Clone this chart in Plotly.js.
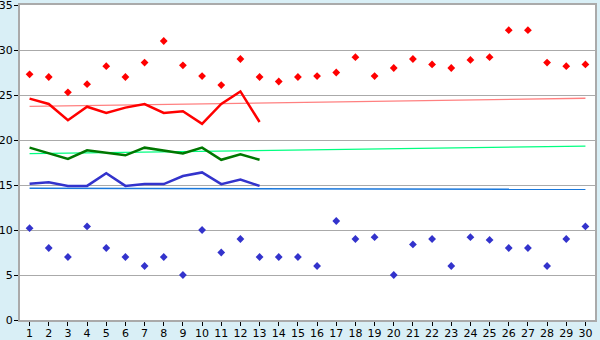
<!DOCTYPE html>
<html>
<head>
<meta charset="utf-8">
<script src="https://cdn.plot.ly/plotly-3.0.1.min.js"></script>
<style>
html,body{margin:0;padding:0;background:#d9eff6;}
#chart{width:600px;height:340px;}
</style>
</head>
<body>
<div id="chart"></div>
<script>
const days = [1,2,3,4,5,6,7,8,9,10,11,12,13,14,15,16,17,18,19,20,21,22,23,24,25,26,27,28,29,30];
const maxPoints = [27.3,27.0,25.3,26.2,28.2,27.0,28.6,31.0,28.3,27.1,26.1,29.0,27.0,26.5,27.0,27.1,27.5,29.2,27.1,28.0,29.0,28.4,28.0,28.9,29.2,32.2,32.2,28.6,28.2,28.4];
const minPoints = [10.2,8.0,7.0,10.4,8.0,7.0,6.0,7.0,5.0,10.0,7.5,9.0,7.0,7.0,7.0,6.0,11.0,9.0,9.2,5.0,8.4,9.0,6.0,9.2,8.9,8.0,8.0,6.0,9.0,10.4];
const lineDays = [1,2,3,4,5,6,7,8,9,10,11,12,13];
const redLine = [24.6,24.0,22.2,23.7,23.0,23.6,24.0,23.0,23.2,21.8,24.0,25.4,22.0];
const greenLine = [19.15,18.5,17.9,18.85,18.6,18.3,19.15,18.8,18.5,19.15,17.8,18.4,17.8];
const blueLine = [15.15,15.3,14.9,14.9,16.3,14.9,15.1,15.1,16.0,16.4,15.1,15.6,14.9];
const trendDays = [1,30];
const redTrend = [23.74,24.64];
const greenTrend = [18.48,19.33];
const blueTrend = [14.63,14.52];

const traces = [
  {x: trendDays, y: redTrend, mode:'lines', line:{color:'#ff8080', width:1.3}},
  {x: trendDays, y: greenTrend, mode:'lines', line:{color:'#00ff80', width:1.3}},
  {x: trendDays, y: blueTrend, mode:'lines', line:{color:'#1a78dc', width:1.5}},
  {x: lineDays, y: redLine, mode:'lines', line:{color:'#ff0000', width:2.5}},
  {x: lineDays, y: greenLine, mode:'lines', line:{color:'#007700', width:2.5}},
  {x: lineDays, y: blueLine, mode:'lines', line:{color:'#3333cc', width:2.5}},
  {x: days, y: maxPoints, mode:'markers', marker:{symbol:'diamond', size:6, color:'#ff0000'}},
  {x: days, y: minPoints, mode:'markers', marker:{symbol:'diamond', size:6, color:'#3333cc'}}
];

const layout = {
  width:600, height:340,
  margin:{l:20, r:5, t:5, b:20, pad:0},
  paper_bgcolor:'#d9eff6',
  plot_bgcolor:'#ffffff',
  showlegend:false,
  font:{family:'DejaVu Sans, Verdana, sans-serif', size:11, color:'#000'},
  xaxis:{
    range:[0.5,30.5], tickmode:'array', tickvals:days, ticktext:days.map(String),
    showgrid:false, zeroline:false,
    showline:true, linecolor:'#aaaaaa', linewidth:2, mirror:true,
    ticks:'outside', ticklen:4, tickcolor:'#000', tickwidth:1,
    ticklabeloverflow:'allow', ticklabelstandoff:-2,
    fixedrange:true
  },
  yaxis:{
    range:[0,35], dtick:5, tick0:0,
    showgrid:true, gridcolor:'#aaaaaa', gridwidth:1, zeroline:false,
    showline:true, linecolor:'#aaaaaa', linewidth:2, mirror:true,
    ticks:'outside', ticklen:4, tickcolor:'#000', tickwidth:1,
    ticklabeloverflow:'allow', ticklabelstandoff:-1,
    fixedrange:true
  }
};

Plotly.newPlot('chart', traces, layout, {displayModeBar:false, staticPlot:true});
</script>
</body>
</html>
